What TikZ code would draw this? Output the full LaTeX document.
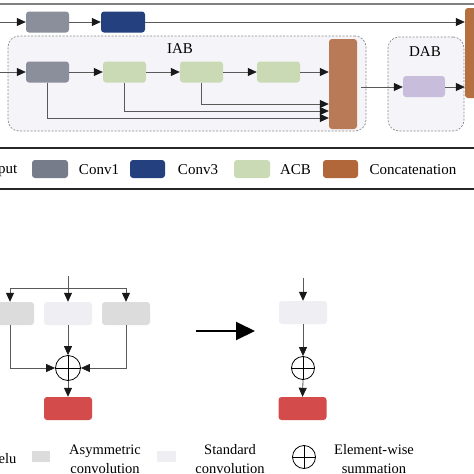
\documentclass[tikz,border=0pt]{standalone}
\usepackage{fontspec}
\setmainfont{Liberation Serif}
\usetikzlibrary{arrows.meta}
\definecolor{cconvA}{HTML}{8A8F9B}
\definecolor{cconvAleg}{HTML}{767C89}
\definecolor{cconvB}{HTML}{24407E}
\definecolor{cacb}{HTML}{CADAB5}
\definecolor{ccat}{HTML}{B87A57}
\definecolor{ccatbig}{HTML}{B5703F}
\definecolor{ccatleg}{HTML}{B1673A}
\definecolor{cdab}{HTML}{C8BEDB}
\definecolor{cregion}{HTML}{F5F4F9}
\definecolor{casym}{HTML}{DCDCDC}
\definecolor{cstd}{HTML}{EFEFF3}
\definecolor{cred}{HTML}{D44B4B}
\begin{document}
\begin{tikzpicture}[x=1pt,y=-1pt,
  blk/.style={draw=none, rounded corners=3pt, inner sep=0pt},
  ln/.style={draw=black!65, line width=0.8pt},
  arr/.style={ln, -{Triangle[length=9pt,width=8pt,color=black!90]}},
  region/.style={draw=black!45, dash pattern=on 2pt off 1.5pt, fill=cregion, rounded corners=11pt, line width=0.7pt},
  lbl/.style={font=\fontsize{15}{18}\selectfont, inner sep=0pt},
  lbltwo/.style={font=\fontsize{14.5}{19}\selectfont, inner sep=0pt, align=center},
  sumnode/.style={circle, draw=black, line width=0.8pt, inner sep=0pt},
]
\useasboundingbox (0,0) rectangle (474,474);
\fill[white] (0,0) rectangle (474,474);

% frame lines
\coordinate (fl1) at (0,4);   \coordinate (fr1) at (474,4);
\draw[black!50, line width=1.2pt] (fl1) -- (fr1);

% regions
\node[region, minimum width=358, minimum height=95, inner sep=0pt] (iab) at (187,83.5) {};
\node[region, minimum width=76, minimum height=94, inner sep=0pt] (dab) at (426,84) {};
\node[lbl] (iabl) at (180,49) {IAB};
\node[lbl] (dabl) at (425,52) {DAB};

% top row
\coordinate (inA) at (0,22);
\node[blk, fill=cconvA, minimum width=43, minimum height=21] (tc1) at (47.5,22) {};
\node[blk, fill=cconvB, minimum width=44, minimum height=21] (tc3) at (123,22) {};
\node[blk, fill=ccatbig, minimum width=22, minimum height=90] (bigcat) at (476,53) {};
\draw[arr] (inA) -- (tc1.west);
\draw[arr] (tc1.east) -- (tc3.west);
\draw[arr] (tc3.east) -- (tc3.east -| bigcat.west);

% IAB row
\coordinate (inB) at (0,72);
\node[blk, fill=cconvA, minimum width=43, minimum height=21] (ic1) at (47.5,72) {};
\node[blk, fill=cacb, minimum width=43, minimum height=21] (a1) at (124.5,72) {};
\node[blk, fill=cacb, minimum width=43, minimum height=21] (a2) at (201.5,72) {};
\node[blk, fill=cacb, minimum width=43, minimum height=21] (a3) at (278.5,72) {};
\node[blk, fill=ccat, minimum width=28, minimum height=90] (icat) at (343,84) {};
\draw[arr] (inB) -- (ic1.west);
\draw[arr] (ic1.east) -- (a1.west);
\draw[arr] (a1.east) -- (a2.west);
\draw[arr] (a2.east) -- (a3.west);
\draw[arr] (a3.east) -- (a3.east -| icat.west);
\coordinate (sk1) at (0,118);
\coordinate (sk2) at (0,111);
\coordinate (sk3) at (0,104);
\draw[arr] (ic1.south) |- (sk1 -| icat.west);
\draw[arr] (a1.south) |- (sk2 -| icat.west);
\draw[arr] (a2.south) |- (sk3 -| icat.west);

% DAB
\node[blk, fill=cdab, minimum width=42, minimum height=21] (dp) at (424,86.5) {};
\coordinate (ja) at (0,87);
\draw[arr] ([xshift=4pt]ja -| icat.east) -- (ja -| dp.west);
\draw[arr] (ja -| dp.east) -- (ja -| bigcat.west);

% legend top
\coordinate (lg1) at (0,148); \coordinate (lg2) at (474,148);
\coordinate (lg3) at (0,188.5); \coordinate (lg4) at (474,188.5);
\draw[black!85, line width=2pt] (lg1) -- (lg2);
\draw[black!85, line width=2pt] (lg3) -- (lg4);
\node[lbl, anchor=east] (tin) at (17.5,170) {Input};
\node[blk, fill=cconvAleg, minimum width=36, minimum height=18] (lc1) at (50,169) {};
\node[lbl] (tc1l) at (99,170) {Conv1};
\node[blk, fill=cconvB, minimum width=35, minimum height=18] (lc3) at (147.5,169) {};
\node[lbl] (tc3l) at (198,170) {Conv3};
\node[blk, fill=cacb, minimum width=36, minimum height=18] (lacb) at (252,169) {};
\node[lbl] (tacb) at (295.5,170) {ACB};
\node[blk, fill=ccatleg, minimum width=35, minimum height=18] (lcat) at (340.5,169) {};
\node[lbl] (tcat) at (413,170) {Concatenation};

% lower left diagram
\coordinate (inL) at (68,276);
\coordinate (brL) at (68,288);
\node[blk, fill=casym, minimum width=48, minimum height=23] (al) at (10,313.5) {};
\node[blk, fill=cstd, minimum width=48, minimum height=23] (sm) at (68,313.5) {};
\node[blk, fill=casym, minimum width=48, minimum height=23] (ar) at (126,313.5) {};
\node[sumnode, minimum size=25] (sumL) at (68,368) {};
\draw[black, line width=0.8pt] (sumL.north) -- (sumL.south) (sumL.west) -- (sumL.east);
\node[blk, fill=cred, minimum width=48, minimum height=23] (redL) at (68,408.5) {};
\draw[arr] (inL) -- (sm.north);
\draw[arr] (brL) -| (al.north);
\draw[arr] (brL) -| (ar.north);
\draw[arr] (al.south) |- (sumL.west);
\draw[arr] (ar.south) |- (sumL.east);
\draw[arr] (sm.south) -- (sumL.north);
\draw[arr] (sumL.south) -- (redL.north);

% big arrow
\coordinate (ba1) at (196,331);
\coordinate (ba2) at (255,331);
\draw[black, line width=2pt, -{Triangle[length=19pt,width=18pt]}] (ba1) -- (ba2);

% lower right diagram
\coordinate (inR) at (303,278);
\node[blk, fill=cstd, minimum width=48, minimum height=23] (sr) at (303,312.5) {};
\node[sumnode, minimum size=23] (sumR) at (303,368) {};
\draw[black, line width=0.8pt] (sumR.north) -- (sumR.south) (sumR.west) -- (sumR.east);
\node[blk, fill=cred, minimum width=48, minimum height=23] (redR) at (302.5,408.5) {};
\draw[arr] (inR) -- (sr.north);
\draw[arr] (sr.south) -- (sumR.north);
\draw[arr] (sumR.south) -- (redR.north);

% lower legend
\node[lbl, font=\fontsize{14.5}{19}\selectfont, anchor=east] (trelu) at (16.5,459) {Relu};
\node[blk, rounded corners=0pt, fill=casym, minimum width=18, minimum height=11] (lasym) at (41,456.5) {};
\node[lbltwo] (tasym) at (105,459) {Asymmetric\\convolution};
\node[blk, rounded corners=0pt, fill=cstd, minimum width=19, minimum height=11] (lstd) at (166.5,456.5) {};
\node[lbltwo] (tstd) at (230,459) {Standard\\convolution};
\node[sumnode, minimum size=23] (lsum) at (304,457) {};
\draw[black, line width=0.8pt] (lsum.north) -- (lsum.south) (lsum.west) -- (lsum.east);
\node[lbltwo] (tsum) at (374,459) {Element-wise\\summation};
\end{tikzpicture}
\end{document}
